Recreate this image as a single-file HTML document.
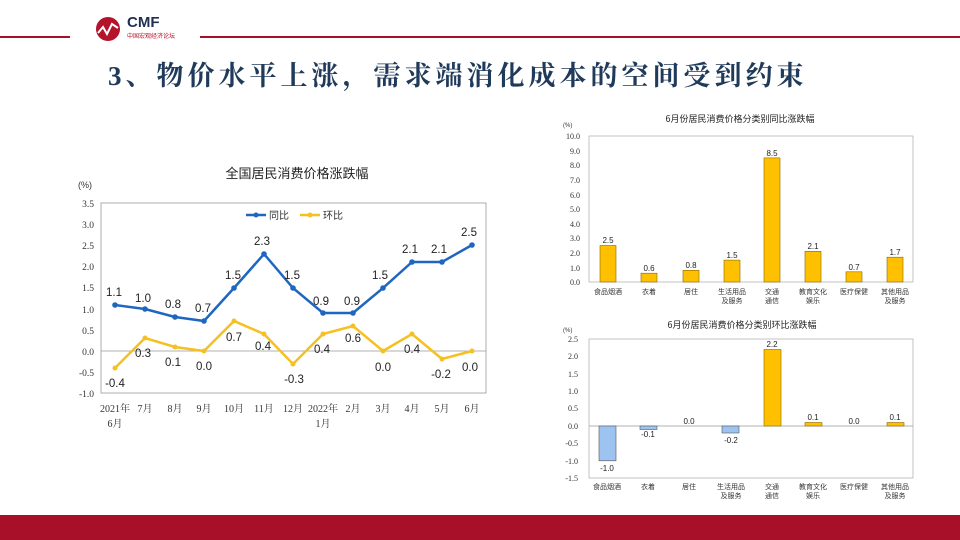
<!DOCTYPE html>
<html><head><meta charset="utf-8"><style>
html,body{margin:0;padding:0;background:#fff}
svg{display:block}
</style></head><body>
<svg width="960" height="540" viewBox="0 0 960 540" xmlns="http://www.w3.org/2000/svg" font-family="Liberation Sans, Noto Sans CJK SC, sans-serif">
<rect width="960" height="540" fill="#fff"/>
<!-- header -->
<line x1="0" y1="37" x2="70" y2="37" stroke="#a8102a" stroke-width="2"/>
<line x1="200" y1="37" x2="960" y2="37" stroke="#a8102a" stroke-width="2"/>
<circle cx="108" cy="29" r="12" fill="#b5122c"/>
<polyline points="98,33 103,27 107,34 112,24 118,28" fill="none" stroke="#fff" stroke-width="2"/>
<text x="127" y="27" font-size="15" font-weight="bold" fill="#1f3050">CMF</text>
<text x="127" y="38" font-size="6" fill="#b5122c" font-family="Noto Sans CJK SC, sans-serif">中国宏观经济论坛</text>
<text x="108" y="85" font-size="27" font-weight="bold" fill="#1f3a5a" letter-spacing="4" font-family="Liberation Serif, Noto Serif CJK SC, serif">3、物价水平上涨，需求端消化成本的空间受到约束</text>
<rect x="0" y="515" width="960" height="25" fill="#a8102a"/>

<!-- left chart -->
<text x="297" y="178" font-size="13" text-anchor="middle" fill="#222" font-family="Noto Sans CJK SC, sans-serif">全国居民消费价格涨跌幅</text>
<text x="78" y="188" font-size="9" fill="#333">(%)</text>
<rect x="101" y="203" width="385" height="190" fill="none" stroke="#999" stroke-width="0.8"/>
<line x1="101" y1="351" x2="486" y2="351" stroke="#999" stroke-width="0.8"/>
<g font-size="9.5" fill="#333" text-anchor="end" font-family="Liberation Serif, serif">
<text x="94" y="207">3.5</text><text x="94" y="228">3.0</text><text x="94" y="249">2.5</text><text x="94" y="270">2.0</text><text x="94" y="291">1.5</text><text x="94" y="313">1.0</text><text x="94" y="334">0.5</text><text x="94" y="355">0.0</text><text x="94" y="376">-0.5</text><text x="94" y="397">-1.0</text>
</g>
<line x1="246" y1="215" x2="266" y2="215" stroke="#1f66c1" stroke-width="2.5"/><circle cx="256" cy="215" r="2.5" fill="#1f66c1"/>
<text x="269" y="219" font-size="10" fill="#333" font-family="Noto Sans CJK SC, sans-serif">同比</text>
<line x1="300" y1="215" x2="320" y2="215" stroke="#f5c020" stroke-width="2.5"/><circle cx="310" cy="215" r="2.5" fill="#f5c020"/>
<text x="323" y="219" font-size="10" fill="#333" font-family="Noto Sans CJK SC, sans-serif">环比</text>
<polyline fill="none" stroke="#f5c020" stroke-width="2.5" points="115,368 145,338 175,347 204,351 234,321 264,334 293,364 323,334 353,326 383,351 412,334 442,359 472,351"/>
<g fill="#f5c020"><circle cx="115" cy="368" r="2.5"/><circle cx="145" cy="338" r="2.5"/><circle cx="175" cy="347" r="2.5"/><circle cx="204" cy="351" r="2.5"/><circle cx="234" cy="321" r="2.5"/><circle cx="264" cy="334" r="2.5"/><circle cx="293" cy="364" r="2.5"/><circle cx="323" cy="334" r="2.5"/><circle cx="353" cy="326" r="2.5"/><circle cx="383" cy="351" r="2.5"/><circle cx="412" cy="334" r="2.5"/><circle cx="442" cy="359" r="2.5"/><circle cx="472" cy="351" r="2.5"/></g>
<polyline fill="none" stroke="#1f66c1" stroke-width="2.5" points="115,305 145,309 175,317 204,321 234,288 264,254 293,288 323,313 353,313 383,288 412,262 442,262 472,245"/>
<g fill="#1f66c1"><circle cx="115" cy="305" r="2.8"/><circle cx="145" cy="309" r="2.8"/><circle cx="175" cy="317" r="2.8"/><circle cx="204" cy="321" r="2.8"/><circle cx="234" cy="288" r="2.8"/><circle cx="264" cy="254" r="2.8"/><circle cx="293" cy="288" r="2.8"/><circle cx="323" cy="313" r="2.8"/><circle cx="353" cy="313" r="2.8"/><circle cx="383" cy="288" r="2.8"/><circle cx="412" cy="262" r="2.8"/><circle cx="442" cy="262" r="2.8"/><circle cx="472" cy="245" r="2.8"/></g>
<g font-size="11.5" fill="#222" text-anchor="middle">
<text x="114" y="296">1.1</text><text x="143" y="302">1.0</text><text x="173" y="308">0.8</text><text x="203" y="312">0.7</text><text x="233" y="279">1.5</text><text x="262" y="245">2.3</text><text x="292" y="279">1.5</text><text x="321" y="305">0.9</text><text x="352" y="305">0.9</text><text x="380" y="279">1.5</text><text x="410" y="253">2.1</text><text x="439" y="253">2.1</text><text x="469" y="236">2.5</text>
<text x="115" y="387">-0.4</text><text x="143" y="357">0.3</text><text x="173" y="366">0.1</text><text x="204" y="370">0.0</text><text x="234" y="341">0.7</text><text x="263" y="350">0.4</text><text x="294" y="383">-0.3</text><text x="322" y="353">0.4</text><text x="353" y="342">0.6</text><text x="383" y="371">0.0</text><text x="412" y="353">0.4</text><text x="441" y="378">-0.2</text><text x="470" y="371">0.0</text>
</g>
<g font-size="10" fill="#333" text-anchor="middle" font-family="Liberation Serif, Noto Serif CJK SC, serif">
<text x="115" y="412">2021年</text><text x="115" y="427">6月</text><text x="145" y="412">7月</text><text x="175" y="412">8月</text><text x="204" y="412">9月</text><text x="234" y="412">10月</text><text x="264" y="412">11月</text><text x="293" y="412">12月</text><text x="323" y="412">2022年</text><text x="323" y="427">1月</text><text x="353" y="412">2月</text><text x="383" y="412">3月</text><text x="412" y="412">4月</text><text x="442" y="412">5月</text><text x="472" y="412">6月</text>
</g>

<!-- top right chart -->
<text x="740" y="122" font-size="9" text-anchor="middle" fill="#222" font-family="Noto Sans CJK SC, sans-serif">6月份居民消费价格分类别同比涨跌幅</text>
<text x="563" y="127" font-size="6" fill="#333">(%)</text>
<rect x="589" y="136" width="324" height="146" fill="none" stroke="#aaa" stroke-width="0.7"/>
<g font-size="8" fill="#333" text-anchor="end" font-family="Liberation Serif, serif">
<text x="580" y="139">10.0</text><text x="580" y="154">9.0</text><text x="580" y="168">8.0</text><text x="580" y="183">7.0</text><text x="580" y="198">6.0</text><text x="580" y="212">5.0</text><text x="580" y="227">4.0</text><text x="580" y="241">3.0</text><text x="580" y="256">2.0</text><text x="580" y="271">1.0</text><text x="580" y="285">0.0</text>
</g>
<g fill="#ffc000" stroke="#8a6a00" stroke-width="0.6">
<rect x="600" y="245.5" width="16" height="36.5"/><rect x="641" y="273.2" width="16" height="8.8"/><rect x="683" y="270.3" width="16" height="11.7"/><rect x="724" y="260.1" width="16" height="21.9"/><rect x="764" y="157.9" width="16" height="124.1"/><rect x="805" y="251.3" width="16" height="30.7"/><rect x="846" y="271.8" width="16" height="10.2"/><rect x="887" y="257.2" width="16" height="24.8"/>
</g>
<g font-size="8" fill="#222" text-anchor="middle">
<text x="608" y="243">2.5</text><text x="649" y="271">0.6</text><text x="691" y="268">0.8</text><text x="732" y="258">1.5</text><text x="772" y="156">8.5</text><text x="813" y="249">2.1</text><text x="854" y="270">0.7</text><text x="895" y="255">1.7</text>
</g>
<g font-size="7" fill="#333" text-anchor="middle" font-family="Noto Sans CJK SC, sans-serif">
<text x="608" y="294">食品烟酒</text><text x="649" y="294">衣着</text><text x="691" y="294">居住</text><text x="732" y="294">生活用品</text><text x="732" y="303">及服务</text><text x="772" y="294">交通</text><text x="772" y="303">通信</text><text x="813" y="294">教育文化</text><text x="813" y="303">娱乐</text><text x="854" y="294">医疗保健</text><text x="895" y="294">其他用品</text><text x="895" y="303">及服务</text>
</g>

<!-- bottom right chart -->
<text x="742" y="328" font-size="9" text-anchor="middle" fill="#222" font-family="Noto Sans CJK SC, sans-serif">6月份居民消费价格分类别环比涨跌幅</text>
<text x="563" y="332" font-size="6" fill="#333">(%)</text>
<rect x="589" y="339" width="324" height="139" fill="none" stroke="#aaa" stroke-width="0.7"/>
<line x1="589" y1="426" x2="913" y2="426" stroke="#999" stroke-width="0.7"/>
<g font-size="8" fill="#333" text-anchor="end" font-family="Liberation Serif, serif">
<text x="578" y="342">2.5</text><text x="578" y="359">2.0</text><text x="578" y="377">1.5</text><text x="578" y="394">1.0</text><text x="578" y="411">0.5</text><text x="578" y="429">0.0</text><text x="578" y="446">-0.5</text><text x="578" y="464">-1.0</text><text x="578" y="481">-1.5</text>
</g>
<g fill="#9dc3f0" stroke="#555" stroke-width="0.6">
<rect x="599" y="426" width="17" height="34.8"/><rect x="640" y="426" width="17" height="3.5"/><rect x="722" y="426" width="17" height="7"/>
</g>
<g fill="#ffc000" stroke="#8a6a00" stroke-width="0.6">
<rect x="764" y="349.5" width="17" height="76.5"/><rect x="805" y="422.5" width="17" height="3.5"/><rect x="887" y="422.5" width="17" height="3.5"/>
</g>
<g font-size="8" fill="#222" text-anchor="middle">
<text x="607" y="471">-1.0</text><text x="648" y="437">-0.1</text><text x="689" y="424">0.0</text><text x="731" y="443">-0.2</text><text x="772" y="347">2.2</text><text x="813" y="420">0.1</text><text x="854" y="424">0.0</text><text x="895" y="420">0.1</text>
</g>
<g font-size="7" fill="#333" text-anchor="middle" font-family="Noto Sans CJK SC, sans-serif">
<text x="607" y="489">食品烟酒</text><text x="648" y="489">衣着</text><text x="689" y="489">居住</text><text x="731" y="489">生活用品</text><text x="731" y="498">及服务</text><text x="772" y="489">交通</text><text x="772" y="498">通信</text><text x="813" y="489">教育文化</text><text x="813" y="498">娱乐</text><text x="854" y="489">医疗保健</text><text x="895" y="489">其他用品</text><text x="895" y="498">及服务</text>
</g>
</svg>
</body></html>
